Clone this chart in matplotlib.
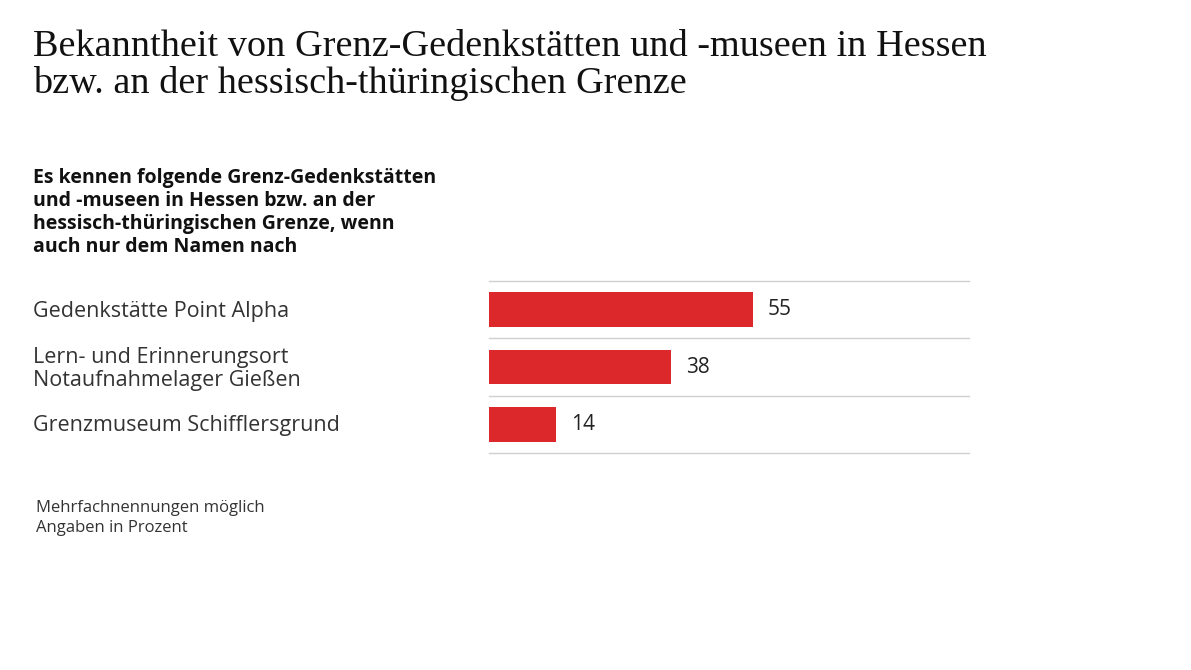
"""Bekanntheit von Grenz-Gedenkstätten -- horizontal bar chart."""

import matplotlib
matplotlib.use("Agg")
import matplotlib.pyplot as plt

labels = [
    "Gedenkstätte Point Alpha",
    "Lern- und Erinnerungsort\nNotaufnahmelager Gießen",
    "Grenzmuseum Schifflersgrund",
]
values = [55, 38, 14]

TITLE = ("Bekanntheit von Grenz-Gedenkstätten und -museen in Hessen\n"
         "bzw. an der hessisch-thüringischen Grenze")
SUBTITLE = ("Es kennen folgende Grenz-Gedenkstätten\n"
            "und -museen in Hessen bzw. an der\n"
            "hessisch-thüringischen Grenze, wenn\n"
            "auch nur dem Namen nach")
NOTE = "Mehrfachnennungen möglich\nAngaben in Prozent"
RED = "#dc282b"


def main():
    plt.rcParams["font.family"] = ["Open Sans", "DejaVu Sans"]
    fig = plt.figure(figsize=(11.91, 6.70), dpi=100)
    ax = fig.add_axes([489 / 1191, 1 - 453 / 670, 480 / 1191, 172 / 670])

    pos = range(len(values))
    ax.barh(pos, values, height=0.6, color=RED)
    for y, v in zip(pos, values):
        ax.text(v + 3, y, str(v), va="center", ha="left", fontsize=15,
                color="#222222")
    for y, lab in zip(pos, labels):
        ax.text(33 / 1191, 1 - (312 + 57 * y) / 670, lab, transform=fig.transFigure,
                va="center", ha="left", fontsize=15.5, color="#333333",
                linespacing=1.15)
    for g in [-0.5, 0.5, 1.5, 2.5]:
        ax.axhline(g, color="#d0d0d0", lw=1, clip_on=False)  # row separators

    ax.set_xlim(0, 100)
    ax.set_ylim(2.5, -0.5)
    ax.axis("off")

    fig.text(33 / 1191, 1 - 30 / 670, TITLE, va="top", ha="left",
             family="Liberation Serif", fontsize=27.5, color="#111111",
             linespacing=1.05)
    fig.text(33 / 1191, 1 - 168 / 670, SUBTITLE, va="top", ha="left",
             fontsize=14, fontweight="bold", color="#111111", linespacing=1.2)
    fig.text(36 / 1191, 1 - 500 / 670, NOTE, va="top", ha="left",
             fontsize=12, color="#333333", linespacing=1.35)

    fig.savefig("out.png", dpi=100, facecolor="white")
    plt.close(fig)


if __name__ == "__main__":
    main()
